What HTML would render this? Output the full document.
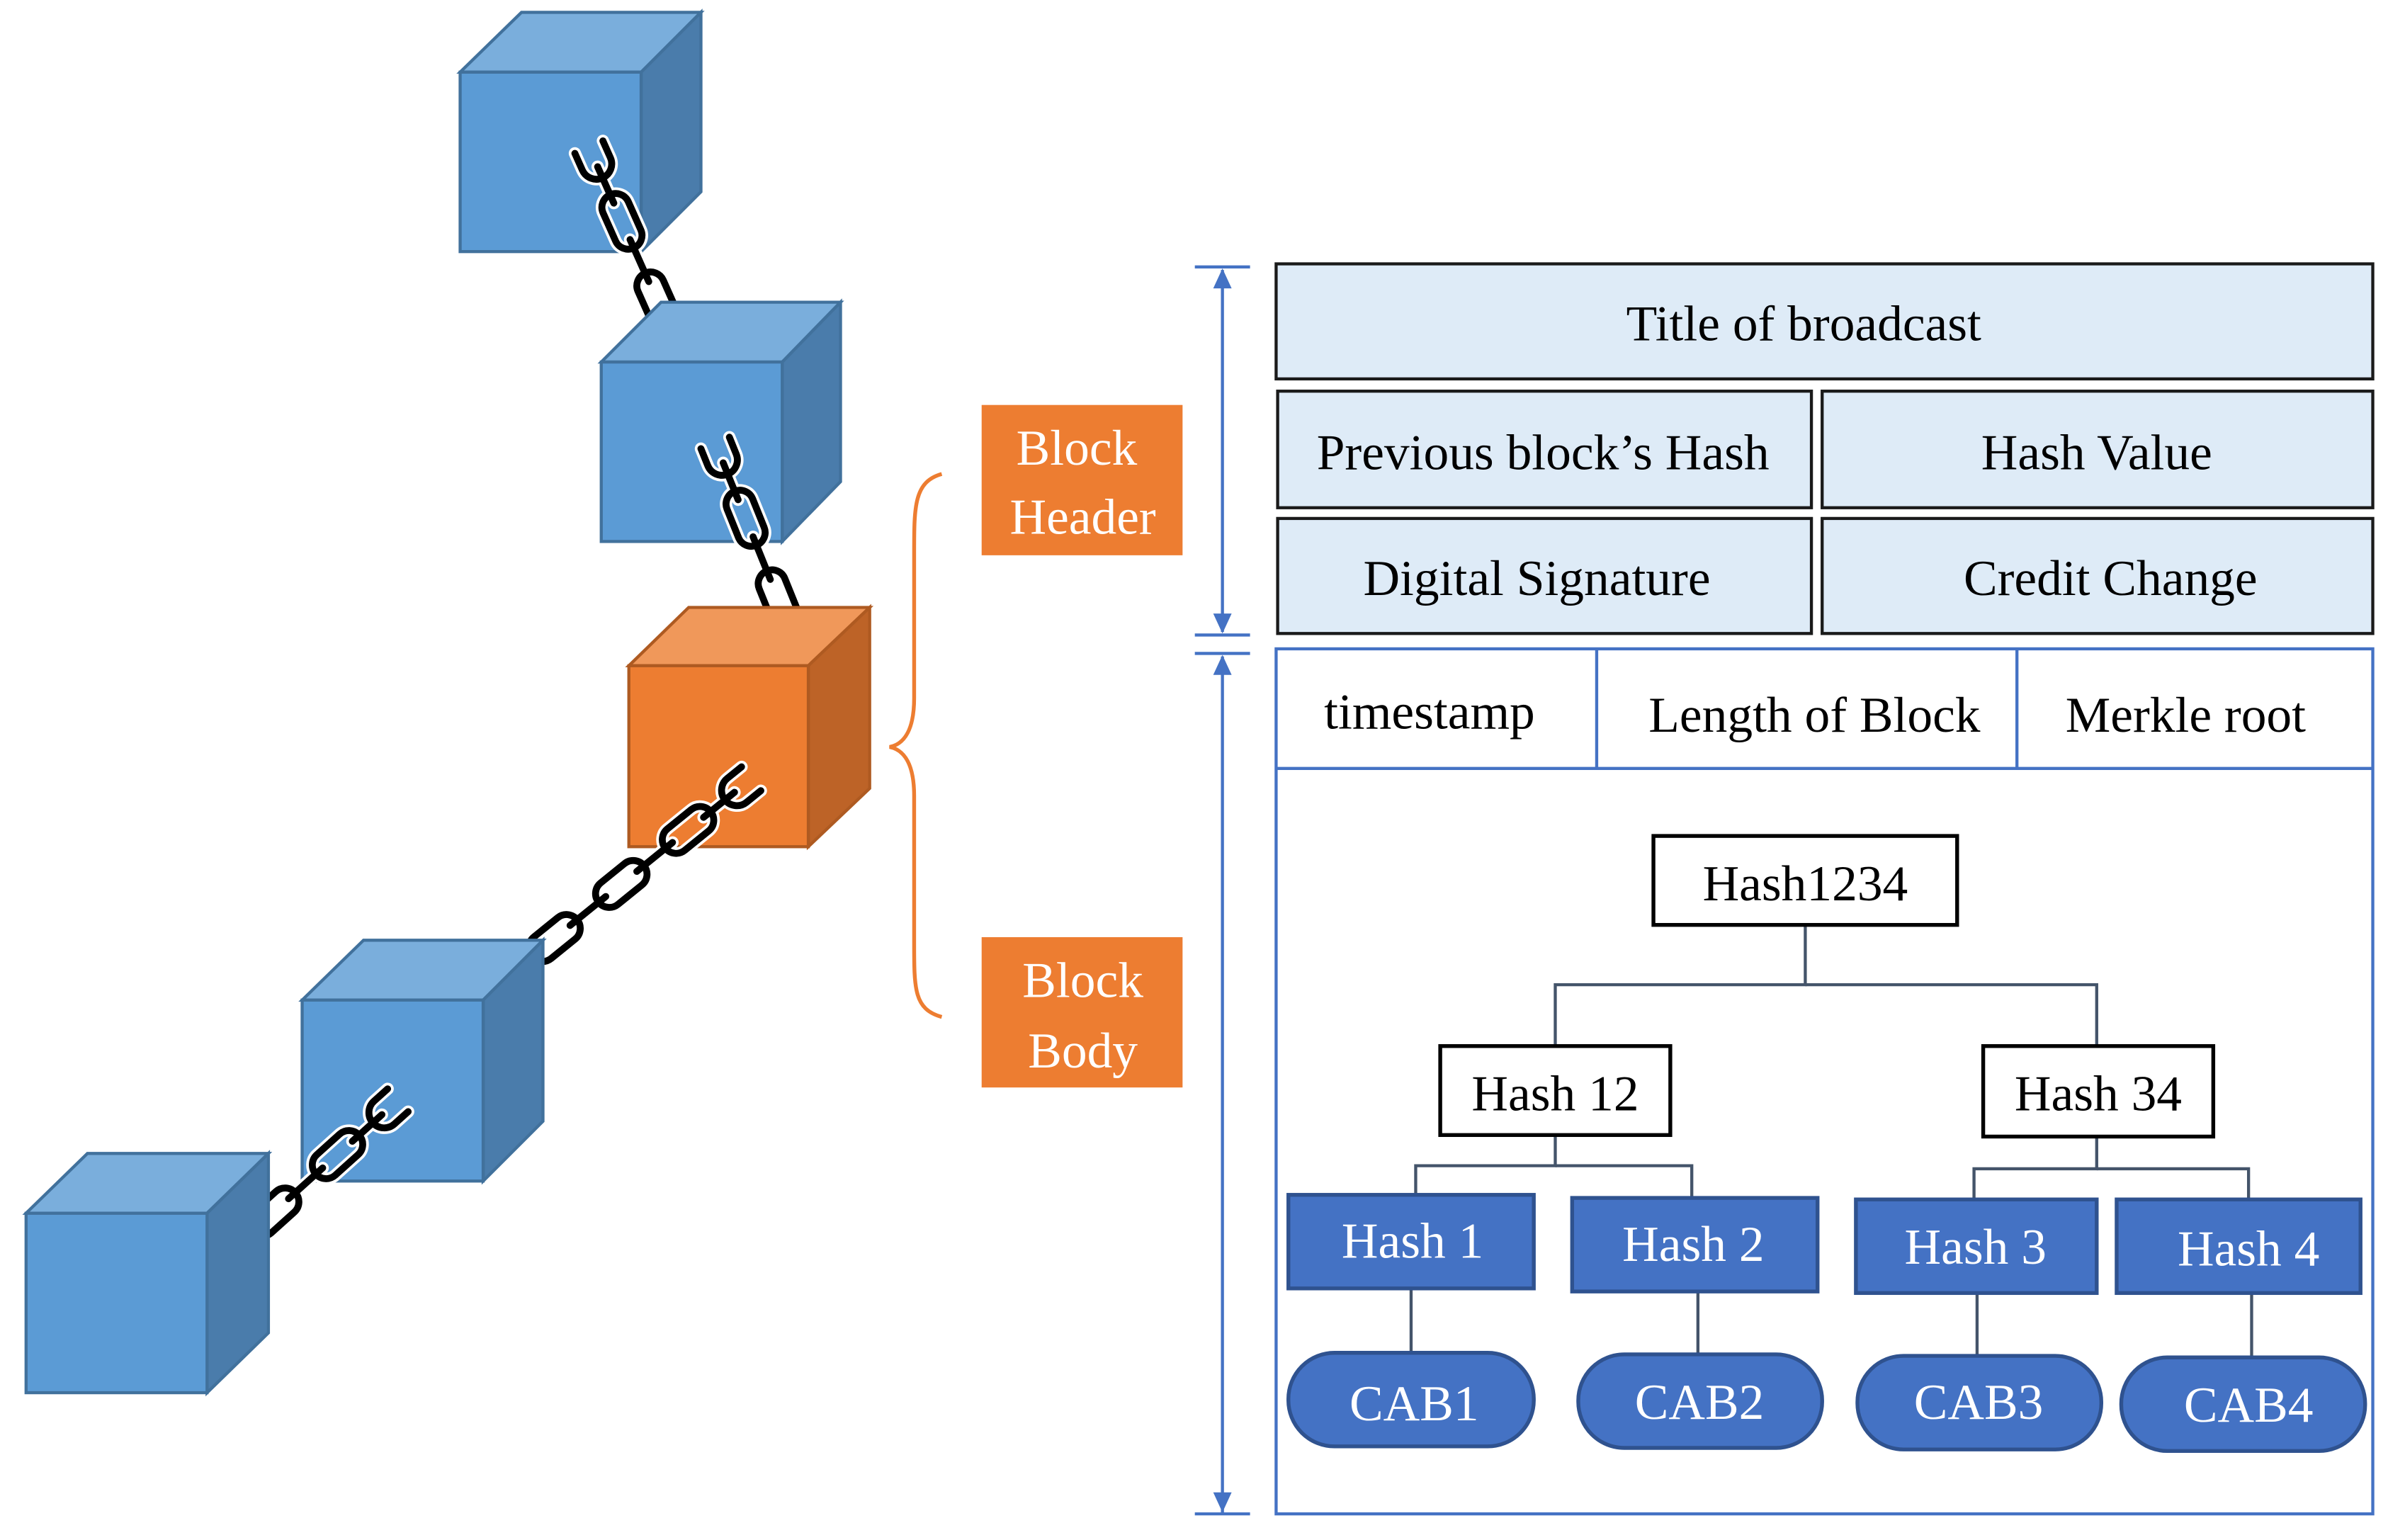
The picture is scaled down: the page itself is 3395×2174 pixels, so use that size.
<!DOCTYPE html>
<html><head><meta charset="utf-8"><style>
html,body{margin:0;padding:0;background:#fff;}
svg{display:block;}
text{font-family:"Liberation Serif","Times New Roman","DejaVu Serif",serif;}
</style></head><body>
<svg width="3395" height="2174" viewBox="0 0 1568 1004" xmlns="http://www.w3.org/2000/svg" font-family="Liberation Serif, Times New Roman, DejaVu Serif, serif">
<defs>
<g id="chainA">
  <g fill="none" stroke="#fff" stroke-width="8" stroke-linecap="round">
    <path d="M-10,-10 L2,-10 A10,10 0 0 1 2,10 L-10,10"/>
    <line x1="4" y1="0" x2="30" y2="0"/>
    <rect x="24" y="-9" width="38" height="18" rx="9"/>
    <line x1="56" y1="0" x2="86" y2="0"/>
    <rect x="80" y="-9" width="38" height="18" rx="9"/>
    <line x1="112" y1="0" x2="142" y2="0"/>
    <rect x="136" y="-9" width="38" height="18" rx="9"/>
    <line x1="168" y1="0" x2="198" y2="0"/>
  </g>
  <g fill="none" stroke="#000" stroke-width="4.5" stroke-linecap="round">
    <path d="M-10,-10 L2,-10 A10,10 0 0 1 2,10 L-10,10"/>
    <rect x="24" y="-9" width="38" height="18" rx="9"/>
    <rect x="80" y="-9" width="38" height="18" rx="9"/>
    <rect x="136" y="-9" width="38" height="18" rx="9"/>
    <line x1="4" y1="0" x2="30" y2="0"/>
    <line x1="56" y1="0" x2="86" y2="0"/>
    <line x1="112" y1="0" x2="142" y2="0"/>
    <line x1="168" y1="0" x2="198" y2="0"/>
  </g>
</g>
</defs>

<g stroke="#41719c" stroke-width="2">
<polygon points="300,47 340,8 457,8 418,47" fill="#7aaedc"/>
<polygon points="418,47 457,8 457,125 418,164" fill="#4a7cab"/>
<rect x="300" y="47" width="118" height="117" fill="#5b9bd5"/>
</g>
<use href="#chainA" transform="translate(388,105) rotate(66)"/>

<g stroke="#41719c" stroke-width="2">
<polygon points="392,236 431,197 548,197 510,236" fill="#7aaedc"/>
<polygon points="510,236 548,197 548,314 510,353" fill="#4a7cab"/>
<rect x="392" y="236" width="118" height="117" fill="#5b9bd5"/>
</g>
<use href="#chainA" transform="translate(470,298) rotate(68)"/>

<g stroke="#ae5a21" stroke-width="2">
<polygon points="410,434 449,396 567,396 527,434" fill="#f0985a"/>
<polygon points="527,434 567,396 567,514 527,552" fill="#bd6327"/>
<rect x="410" y="434" width="117" height="118" fill="#ed7d31"/>
</g>
<use href="#chainA" transform="translate(482,514) rotate(141)"/>

<g stroke="#41719c" stroke-width="2">
<polygon points="197,652 237,613 354,613 315,652" fill="#7aaedc"/>
<polygon points="315,652 354,613 354,731 315,770" fill="#4a7cab"/>
<rect x="197" y="652" width="118" height="118" fill="#5b9bd5"/>
</g>
<use href="#chainA" transform="translate(252,724) rotate(138)"/>

<g stroke="#41719c" stroke-width="2">
<polygon points="17,791 57,752 175,752 135,791" fill="#7aaedc"/>
<polygon points="135,791 175,752 175,869 135,908" fill="#4a7cab"/>
<rect x="17" y="791" width="118" height="117" fill="#5b9bd5"/>
</g>

<path d="M614,309 C596,314 596,330 596,360 L596,455 C596,475 590,485 580,487 C590,489 596,499 596,519 L596,615 C596,645 596,658 614,663" fill="none" stroke="#ed7d31" stroke-width="2.5"/>

<rect x="640" y="264" width="131" height="98" fill="#ed7d31"/>
<text x="702" y="303" font-size="33" fill="#fff" text-anchor="middle">Block</text>
<text x="706" y="348" font-size="33" fill="#fff" text-anchor="middle">Header</text>
<rect x="640" y="611" width="131" height="98" fill="#ed7d31"/>
<text x="706" y="650" font-size="33" fill="#fff" text-anchor="middle">Block</text>
<text x="706" y="696" font-size="33" fill="#fff" text-anchor="middle">Body</text>

<g stroke="#4472c4" stroke-width="2" fill="#4472c4">
<line x1="797" y1="176" x2="797" y2="412"/>
<line x1="779" y1="174" x2="815" y2="174"/>
<line x1="779" y1="414" x2="815" y2="414"/>
<polygon points="797,175 791,188 803,188" stroke="none"/>
<polygon points="797,413 791,400 803,400" stroke="none"/>
<line x1="797" y1="428" x2="797" y2="986"/>
<line x1="779" y1="426" x2="815" y2="426"/>
<line x1="779" y1="987" x2="815" y2="987"/>
<polygon points="797,427 791,440 803,440" stroke="none"/>
<polygon points="797,986 791,973 803,973" stroke="none"/>
</g>

<g stroke="#1a1a1a" stroke-width="2" fill="#deebf7">
<rect x="832" y="172" width="715" height="75"/>
<rect x="833" y="255" width="348" height="76"/>
<rect x="1188" y="255" width="359" height="76"/>
<rect x="833" y="338" width="348" height="75"/>
<rect x="1188" y="338" width="359" height="75"/>
</g>
<g font-size="33" fill="#000" text-anchor="middle">
<text x="1176" y="222">Title of broadcast</text>
<text x="1006" y="306">Previous block’s  Hash</text>
<text x="1367" y="306">Hash Value</text>
<text x="1002" y="388">Digital Signature</text>
<text x="1376" y="388">Credit Change</text>
</g>

<g stroke="#4472c4" stroke-width="2" fill="none">
<rect x="832" y="423" width="715" height="564"/>
<line x1="832" y1="501" x2="1547" y2="501"/>
<line x1="1041" y1="423" x2="1041" y2="501"/>
<line x1="1315" y1="423" x2="1315" y2="501"/>
</g>
<g font-size="33" fill="#000" text-anchor="middle">
<text x="932" y="475">timestamp</text>
<text x="1183" y="477">Length of Block</text>
<text x="1425" y="477">Merkle root</text>
</g>

<g stroke="#44546a" stroke-width="2" fill="none">
<polyline points="1177,603 1177,642 1014,642 1014,682"/>
<polyline points="1177,642 1367,642 1367,682"/>
<polyline points="1014,740 1014,760 923,760 923,779"/>
<polyline points="1014,760 1103,760 1103,781"/>
<polyline points="1367,741 1367,762 1287,762 1287,782"/>
<polyline points="1367,762 1466,762 1466,782"/>
<line x1="920" y1="840" x2="920" y2="882"/>
<line x1="1107" y1="842" x2="1107" y2="883"/>
<line x1="1289" y1="843" x2="1289" y2="884"/>
<line x1="1468" y1="843" x2="1468" y2="885"/>
</g>

<g stroke="#000" stroke-width="2.5" fill="#fff">
<rect x="1078" y="545" width="198" height="58"/>
<rect x="939" y="682" width="150" height="58"/>
<rect x="1293" y="682" width="150" height="59"/>
</g>
<g font-size="33" fill="#000" text-anchor="middle">
<text x="1177" y="587">Hash1234</text>
<text x="1014" y="724">Hash 12</text>
<text x="1368" y="724">Hash 34</text>
</g>

<g stroke="#2f528f" stroke-width="2.5" fill="#4472c4">
<rect x="840" y="779" width="160" height="61"/>
<rect x="1025" y="781" width="160" height="61"/>
<rect x="1210" y="782" width="157" height="61"/>
<rect x="1380" y="782" width="159" height="61"/>
<rect x="840" y="882" width="160" height="61" rx="30"/>
<rect x="1029" y="883" width="159" height="61" rx="30"/>
<rect x="1211" y="884" width="159" height="61" rx="30"/>
<rect x="1383" y="885" width="159" height="61" rx="30"/>
</g>
<g font-size="33" fill="#fff" text-anchor="middle">
<text x="921" y="820">Hash 1</text>
<text x="1104" y="822">Hash 2</text>
<text x="1288" y="824">Hash 3</text>
<text x="1466" y="825">Hash 4</text>
<text x="922" y="926">CAB1</text>
<text x="1108" y="925">CAB2</text>
<text x="1290" y="925">CAB3</text>
<text x="1466" y="927">CAB4</text>
</g>
</svg>
</body></html>
